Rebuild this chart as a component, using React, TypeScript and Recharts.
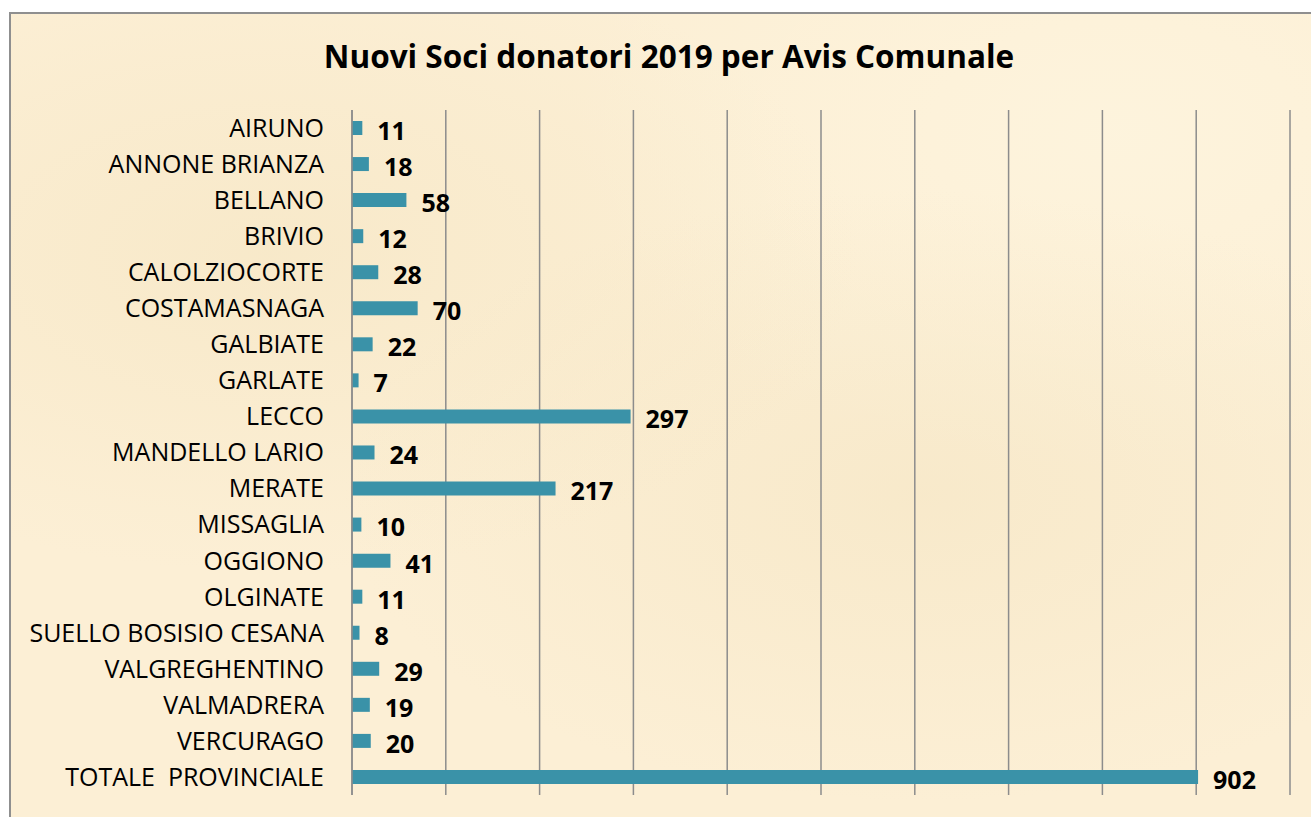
import { BarChart, Bar, XAxis, YAxis, CartesianGrid, LabelList } from "recharts";

const COMUNI = [
  "AIRUNO",
  "ANNONE BRIANZA",
  "BELLANO",
  "BRIVIO",
  "CALOLZIOCORTE",
  "COSTAMASNAGA",
  "GALBIATE",
  "GARLATE",
  "LECCO",
  "MANDELLO LARIO",
  "MERATE",
  "MISSAGLIA",
  "OGGIONO",
  "OLGINATE",
  "SUELLO BOSISIO CESANA",
  "VALGREGHENTINO",
  "VALMADRERA",
  "VERCURAGO",
  "TOTALE\u00a0 PROVINCIALE",
];

const NUOVI_SOCI = [11, 18, 58, 12, 28, 70, 22, 7, 297, 24, 217, 10, 41, 11, 8, 29, 19, 20, 902];

const X_TICKS = [0, 100, 200, 300, 400, 500, 600, 700, 800, 900, 1000];

const TITOLO = "Nuovi Soci donatori 2019 per Avis Comunale";

const FONT = "'Open Sans', Lato, sans-serif";

// griglia verticale senza etichette sull'asse X
const NoTick = () => <g />;

export default function App() {
  const data = COMUNI.map((nome, i) => ({ nome, valore: NUOVI_SOCI[i] }));

  return (
    <div
      style={{
        position: "absolute",
        left: 9,
        top: 12,
        width: 1302,
        height: 805,
        borderTop: "2px solid #8f8f8f",
        borderLeft: "2px solid #8f8f8f",
        boxSizing: "border-box",
        background:
          "radial-gradient(ellipse at 20% 30%, rgba(240,222,180,0.35), transparent 40%)," +
          "radial-gradient(ellipse at 70% 60%, rgba(238,220,178,0.3), transparent 45%)," +
          "radial-gradient(ellipse at 85% 15%, rgba(255,248,228,0.5), transparent 35%)," +
          "#fcefd5",
        fontFamily: FONT,
        overflow: "hidden",
      }}
    >
      <div
        style={{
          position: "absolute",
          top: 22,
          left: 0,
          width: 1311 - 11,
          textAlign: "center",
          fontSize: 31.5,
          fontWeight: "bold",
          color: "#000",
          paddingLeft: 8,
          lineHeight: "40px",
        }}
      >
        {TITOLO}
      </div>
      <BarChart
        width={1300}
        height={800}
        data={data}
        layout="vertical"
        barCategoryGap={0}
        margin={{ top: 96, right: 21, left: 0, bottom: 18 }}
      >
        <CartesianGrid horizontal={false} stroke="#8c8c8c" strokeWidth={1.5} />
        <XAxis
          type="number"
          domain={[0, 1000]}
          ticks={X_TICKS}
          tick={NoTick}
          tickLine={false}
          axisLine={false}
          height={1}
        />
        <YAxis
          type="category"
          dataKey="nome"
          width={341}
          interval={0}
          tickLine={false}
          tickMargin={22}
          axisLine={{ stroke: "#8c8c8c", strokeWidth: 1.5 }}
          tick={{ fill: "#000", fontSize: 25, fontFamily: FONT }}
        />
        <Bar dataKey="valore" fill="#3a92a8" barSize={14} isAnimationActive={false}>
          <LabelList
            dataKey="valore"
            position="right"
            offset={15}
            dy={3}
            style={{ fill: "#000", fontSize: 25, fontWeight: "bold", fontFamily: FONT }}
          />
        </Bar>
      </BarChart>
    </div>
  );
}
